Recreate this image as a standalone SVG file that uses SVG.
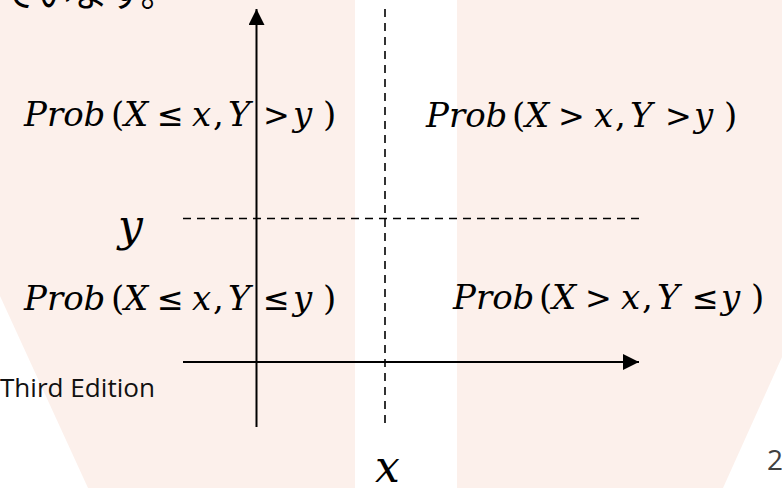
<svg xmlns="http://www.w3.org/2000/svg" width="782" height="488" viewBox="0 0 782 488">
<defs>
<style>
.bg{fill:#FCF0EB;}
.prob{font-family:"DejaVu Serif","Liberation Serif",serif;font-size:34px;fill:#000;font-style:italic;}
.up{font-style:normal;}
.rel{font-style:normal;font-family:"DejaVu Sans","Liberation Sans",sans-serif;font-size:32px;}
.var{font-family:"DejaVu Serif","Liberation Serif",serif;font-size:44px;font-style:italic;fill:#000;}
.axis{stroke:#000;stroke-width:2;fill:none;}
.dash{stroke:#000;stroke-width:1.6;fill:none;stroke-dasharray:8 6;}
.sans{font-family:"Open Sans","Liberation Sans",sans-serif;}
</style>
<marker id="arrow" viewBox="0 0 16 16" refX="16" refY="8" markerWidth="16" markerHeight="16" markerUnits="userSpaceOnUse" orient="auto">
<path d="M0,0 L16,8 L0,16 Z" fill="#000"/>
</marker>
</defs>
<rect width="782" height="488" fill="#fff"/>
<g id="background">
<polygon class="bg" points="0,0 355,0 355,488 88,488 0,296"/>
<polygon class="bg" points="457,0 782,0 782,357 723,488 457,488"/>
</g>
<text x="0" y="7" font-family="'Noto Sans CJK JP',sans-serif" font-size="36" fill="#000">ています。</text>
<g id="connectors">
<line class="axis" x1="256.5" y1="427" x2="256.5" y2="9" marker-end="url(#arrow)"/>
<line class="axis" x1="183" y1="362" x2="639" y2="362" marker-end="url(#arrow)"/>
<line class="dash" x1="183" y1="218.5" x2="639" y2="218.5"/>
<line class="dash" x1="385" y1="9" x2="385" y2="423"/>
</g>
<g id="q-top-left">
<text class="prob" y="126"><tspan x="24">Prob</tspan><tspan class="up" x="111">(</tspan><tspan x="124">X</tspan><tspan class="rel" x="157">≤</tspan><tspan x="192">x</tspan><tspan class="up" x="213">,</tspan><tspan x="228">Y</tspan><tspan class="rel" x="263">&gt;</tspan><tspan x="293">y</tspan><tspan class="up" x="323">)</tspan></text>
</g>
<g id="q-top-right">
<text class="prob" y="127"><tspan x="426">Prob</tspan><tspan class="up" x="512">(</tspan><tspan x="525">X</tspan><tspan class="rel" x="558">&gt;</tspan><tspan x="594">x</tspan><tspan class="up" x="615">,</tspan><tspan x="630">Y</tspan><tspan class="rel" x="665">&gt;</tspan><tspan x="694">y</tspan><tspan class="up" x="724">)</tspan></text>
</g>
<g id="q-bottom-left">
<text class="prob" y="310"><tspan x="24">Prob</tspan><tspan class="up" x="111">(</tspan><tspan x="124">X</tspan><tspan class="rel" x="157">≤</tspan><tspan x="192">x</tspan><tspan class="up" x="213">,</tspan><tspan x="228">Y</tspan><tspan class="rel" x="263">≤</tspan><tspan x="293">y</tspan><tspan class="up" x="323">)</tspan></text>
</g>
<g id="q-bottom-right">
<text class="prob" y="309"><tspan x="453">Prob</tspan><tspan class="up" x="539">(</tspan><tspan x="552">X</tspan><tspan class="rel" x="585">&gt;</tspan><tspan x="621">x</tspan><tspan class="up" x="642">,</tspan><tspan x="657">Y</tspan><tspan class="rel" x="692">≤</tspan><tspan x="721">y</tspan><tspan class="up" x="751">)</tspan></text>
</g>
<g id="label-y"><text class="var" x="118" y="241">y</text></g>
<g id="label-x"><text class="var" x="375" y="482">x</text></g>
<text class="sans" x="0" y="397" font-size="25" fill="#111" textLength="155" lengthAdjust="spacingAndGlyphs">Third Edition</text>
<text class="sans" x="767" y="470" font-size="28" fill="#404040">2</text>
</svg>
